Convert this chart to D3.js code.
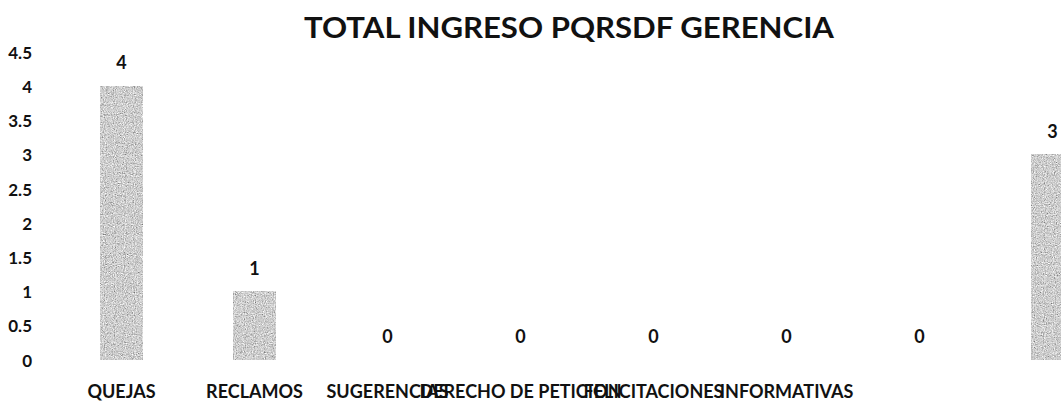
<!DOCTYPE html>
<html>
<head>
<meta charset="utf-8">
<script src="https://cdn.jsdelivr.net/npm/d3@7"></script>
<style>
  body { margin: 0; background: #fff; }
  svg text { font-family: Lato, "Open Sans", sans-serif; fill: #111; }
</style>
</head>
<body>
<div id="chart"></div>
<script>
'use strict';

// data (labels of the two right categories are not visible)
var categories = ['QUEJAS', 'RECLAMOS', 'SUGERENCIAS', 'DERECHO DE PETICION',
  'FELICITACIONES', 'INFORMATIVAS', '', '']
var values = [4, 1, 0, 0, 0, 0, 0, 3]
var yTicks = [0, 0.5, 1, 1.5, 2, 2.5, 3, 3.5, 4, 4.5]
var title = 'TOTAL INGRESO PQRSDF GERENCIA'

var width = 1061, height = 415

var svg = d3.select('#chart').append('svg')
    .attr('width', width)
    .attr('height', height)

// grainy grey fill, like the scanned bars
var defs = svg.append('defs')
var f = defs.append('filter').attr('id', 'grain')
    .attr('x', 0).attr('y', 0).attr('width', 1).attr('height', 1)
f.append('feTurbulence')
    .attr('type', 'fractalNoise').attr('baseFrequency', 0.9)
    .attr('numOctaves', 2).attr('seed', 3).attr('result', 'noise')
f.append('feColorMatrix').attr('in', 'noise').attr('type', 'matrix')
    .attr('values', '0.33 0.33 0.33 0 0  0.33 0.33 0.33 0 0  0.33 0.33 0.33 0 0  0 0 0 0 1')
    .attr('result', 'grey')
var ct = f.append('feComponentTransfer').attr('in', 'grey')
;['feFuncR', 'feFuncG', 'feFuncB'].forEach(function(fn){
  ct.append(fn).attr('type', 'linear').attr('slope', 1.8).attr('intercept', -0.28)
})

var x = d3.scaleBand()
    .domain(d3.range(categories.length))
    .range([55, 55 + 133 * categories.length])
    .paddingInner(0.68)
    .paddingOuter(0.34)

var y = d3.scaleLinear()
    .domain([0, 4.5])
    .range([360, 52])

// title
svg.append('text')
    .attr('x', 569)
    .attr('y', 38)
    .attr('text-anchor', 'middle')
    .attr('font-size', 28)
    .attr('font-weight', 700)
    .attr('textLength', 530)
    .attr('lengthAdjust', 'spacingAndGlyphs')
    .text(title)

// y axis: labels only, no line, no grid
var yAxis = svg.append('g')
    .attr('transform', 'translate(32,0)')
    .call(d3.axisLeft(y).tickValues(yTicks).tickSize(0).tickPadding(0)
      .tickFormat(function(d){ return String(d) }))
yAxis.select('.domain').remove()
yAxis.selectAll('text')
    .attr('font-size', 17)
    .attr('font-weight', 700)
    .attr('font-family', 'Lato, sans-serif')
    .attr('fill', '#111')
    .attr('dy', '0.36em')

// bars
svg.append('g').selectAll('rect')
    .data(values)
    .join('rect')
      .attr('x', function(d, i){ return x(i) })
      .attr('y', function(d){ return y(d) })
      .attr('width', x.bandwidth())
      .attr('height', function(d){ return y(0) - y(d) })
      .attr('fill', '#999')
      .attr('filter', 'url(#grain)')

// data labels
svg.append('g').selectAll('text')
    .data(values)
    .join('text')
      .attr('x', function(d, i){ return x(i) + x.bandwidth() / 2 })
      .attr('y', function(d){ return y(d) - 17 })
      .attr('text-anchor', 'middle')
      .attr('font-size', 18)
      .attr('font-weight', 700)
      .text(function(d){ return d })

// category labels
var xAxis = svg.append('g')
    .attr('transform', 'translate(0,' + y(0) + ')')
    .call(d3.axisBottom(x).tickSize(0).tickPadding(0)
      .tickFormat(function(i){ return categories[i] }))
xAxis.select('.domain').remove()
xAxis.selectAll('text')
    .attr('y', 38)
    .attr('dy', 0)
    .attr('font-size', 18)
    .attr('font-weight', 700)
    .attr('font-family', 'Lato, sans-serif')
    .attr('fill', '#111')
</script>
</body>
</html>
